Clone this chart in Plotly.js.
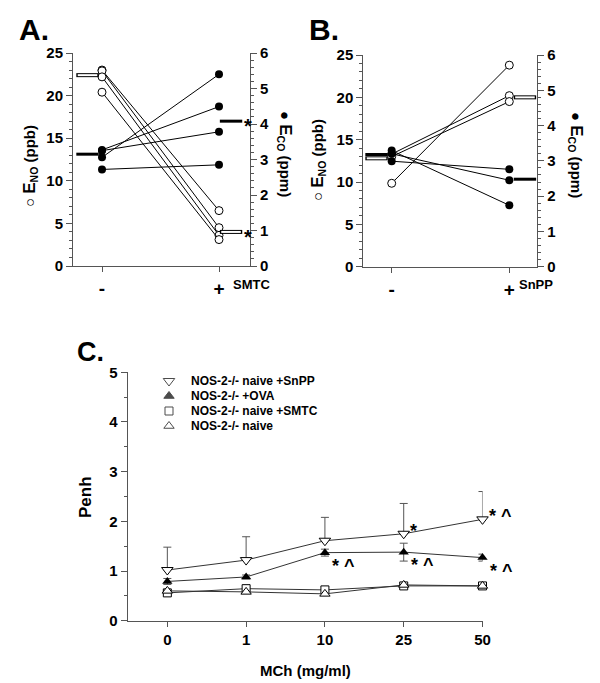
<!DOCTYPE html>
<html>
<head>
<meta charset="utf-8">
<script src="https://cdn.plot.ly/plotly-3.0.1.min.js"></script>
<style>body{margin:0;background:#fff}#chart{width:600px;height:683px}</style>
</head>
<body>
<div id="chart"></div>
<script>
// A. SMTC, one line per mouse (E_NO open, E_CO filled)
var smtcNoBefore = [23.0, 22.9, 22.2, 20.4];
var smtcNoAfter = [6.5, 4.5, 3.6, 3.1];
var smtcCoBefore = [3.27, 3.25, 3.06, 2.72];
var smtcCoAfter = [4.49, 3.78, 5.40, 2.85];
var smtcNoMean = [22.4, 4.0];
var smtcCoMean = [3.15, 4.08];

// B. SnPP
var snppNoBefore = [9.85, 13.3, 13.0];
var snppNoAfter = [23.8, 20.2, 19.5];
var snppCoBefore = [3.29, 3.20, 2.99];
var snppCoAfter = [1.74, 2.45, 2.76];
var snppNoMean = [12.8, 20.0];
var snppCoMean = [3.18, 2.48];

// C. Penh vs MCh
var mchDoses = ['0', '1', '10', '25', '50'];
var penhSnpp = [1.02, 1.22, 1.61, 1.75, 2.04];
var errSnpp = [0.46, 0.47, 0.47, 0.61, 0.56];
var penhOva = [0.79, 0.88, 1.37, 1.38, 1.27];
var errOva = [0.06, 0.04, 0.07, 0.18, 0.07];
var penhSmtc = [0.56, 0.645, 0.62, 0.70, 0.70];
var errSmtc = [0.03, 0.03, 0.06, 0.04, 0.02];
var penhNaive = [0.60, 0.58, 0.54, 0.72, 0.70];

var legendNames = ['NOS-2-/- naive +SnPP', 'NOS-2-/- +OVA', 'NOS-2-/- naive +SMTC', 'NOS-2-/- naive'];

// significance marks: dose index, which series, text
var sigIdx = [2, 3, 4, 3, 4];
var sigSeries = ['ova', 'ova', 'ova', 'snpp', 'snpp'];
var sigText = ['* ^', '* ^', '* ^', '*', '* ^'];

var FONT = 'Liberation Sans, Arial, sans-serif';
var AX = '#555';

var data = [];
var annotations = [];

// before/after panel: lines, circles, mean bars
function pairPanel(xa, yl, yr, noB, noA, coB, coA, noM, coM, offB, offA) {
    for (var i = 0; i < coB.length; i++) {
        data.push({x: [0, 1], y: [coB[i], coA[i]], xaxis: xa, yaxis: yr,
            type: 'scatter', mode: 'lines+markers', showlegend: false,
            line: {color: '#000', width: 1},
            marker: {symbol: 'circle', size: 8, color: '#000'}});
    }
    for (var i = 0; i < noB.length; i++) {
        data.push({x: [0, 1], y: [noB[i], noA[i]], xaxis: xa, yaxis: yl,
            type: 'scatter', mode: 'lines+markers', showlegend: false,
            line: {color: '#000', width: 1},
            marker: {symbol: 'circle', size: 8, color: '#fff', line: {color: '#000', width: 1}}});
    }
    var mx = [0 + offB, 1 + offA];
    // filled mean bar (E_CO)
    data.push({x: mx, y: coM, xaxis: xa, yaxis: yr, type: 'scatter', mode: 'markers',
        showlegend: false, cliponaxis: false,
        marker: {symbol: 'line-ew', size: 16, line: {color: '#000', width: 3}}});
    // open mean bar (E_NO)
    data.push({x: mx, y: noM, xaxis: xa, yaxis: yl, type: 'scatter', mode: 'markers',
        showlegend: false, cliponaxis: false,
        marker: {symbol: 'line-ew', size: 16, line: {color: '#000', width: 4}}});
    data.push({x: mx, y: noM, xaxis: xa, yaxis: yl, type: 'scatter', mode: 'markers',
        showlegend: false, cliponaxis: false,
        marker: {symbol: 'line-ew', size: 14, line: {color: '#fff', width: 2}}});
}

pairPanel('x', 'y', 'y2', smtcNoBefore, smtcNoAfter, smtcCoBefore, smtcCoAfter,
    smtcNoMean, smtcCoMean, -0.124, 0.103);
pairPanel('x2', 'y3', 'y4', snppNoBefore, snppNoAfter, snppCoBefore, snppCoAfter,
    snppNoMean, snppCoMean, -0.129, 0.133);

// stars beside the SMTC means
annotations.push({xref: 'x', yref: 'y2', x: 1, y: smtcCoMean[1], text: '<b>*</b>',
    showarrow: false, xanchor: 'left', yanchor: 'middle', xshift: 23, yshift: -5,
    font: {family: FONT, size: 20, color: '#000'}});
annotations.push({xref: 'x', yref: 'y', x: 1, y: smtcNoMean[1], text: '<b>*</b>',
    showarrow: false, xanchor: 'left', yanchor: 'middle', xshift: 23, yshift: -5,
    font: {family: FONT, size: 20, color: '#000'}});

// panel C
var line = {color: '#333', width: 1};
var eb = {color: AX, thickness: 1, width: 4};
data.push({x: mchDoses, y: penhSmtc, xaxis: 'x3', yaxis: 'y5', type: 'scatter',
    mode: 'lines+markers', showlegend: false, cliponaxis: false, line: line,
    error_y: Object.assign({type: 'data', array: errSmtc}, eb),
    marker: {symbol: 'square', size: 8, color: '#fff', line: {color: '#000', width: 1}}});
data.push({x: mchDoses, y: penhNaive, xaxis: 'x3', yaxis: 'y5', type: 'scatter',
    mode: 'lines+markers', showlegend: false, cliponaxis: false, line: line,
    marker: {symbol: 'triangle-up', size: 9, color: '#fff', line: {color: '#000', width: 1}}});
data.push({x: mchDoses, y: penhOva, xaxis: 'x3', yaxis: 'y5', type: 'scatter',
    mode: 'lines+markers', showlegend: false, cliponaxis: false, line: line,
    error_y: Object.assign({type: 'data', array: errOva}, eb),
    marker: {symbol: 'triangle-up', size: 9, color: '#000'}});
data.push({x: mchDoses, y: penhSnpp, xaxis: 'x3', yaxis: 'y5', type: 'scatter',
    mode: 'lines+markers', showlegend: false, cliponaxis: false, line: line,
    error_y: Object.assign({type: 'data', symmetric: false, array: errSnpp,
        arrayminus: [0, 0, 0, 0, 0]}, eb),
    marker: {symbol: 'triangle-down', size: 10, color: '#fff', line: {color: '#000', width: 1}}});

// legend, drawn on a hidden axis pair (rows 0..3)
var legSymbols = ['triangle-down', 'triangle-up', 'square', 'triangle-up'];
var legColors = ['#fff', '#000', '#fff', '#fff'];
var legSizes = [10, 9, 8, 9];
var rows = legendNames.map(function (n, i) { return i; });
data.push({x: rows.map(function () { return 19; }), y: rows, xaxis: 'x4', yaxis: 'y6',
    type: 'scatter', mode: 'markers', showlegend: false, cliponaxis: false, hoverinfo: 'skip',
    marker: {symbol: legSymbols, size: legSizes, color: legColors, line: {color: '#000', width: 1}}});
legendNames.forEach(function (n, i) {
    annotations.push({xref: 'x4', yref: 'y6', x: 39, y: i, text: '<b>' + n + '</b>',
        showarrow: false, xanchor: 'left', yanchor: 'middle',
        font: {family: FONT, size: 12, color: '#000'}});
});

sigIdx.forEach(function (k, i) {
    var ova = sigSeries[i] === 'ova';
    annotations.push({xref: 'x3', yref: 'y5', x: k,
        y: ova ? penhOva[k] : penhSnpp[k], text: '<b>' + sigText[i] + '</b>',
        showarrow: false, xanchor: 'left', yanchor: 'middle',
        xshift: ova ? 5 : 4, yshift: ova ? -13 : 3,
        font: {family: FONT, size: 18, color: '#000'}});
});

function paper(x, y, txt, size, angle, xa) {
    annotations.push({xref: 'paper', yref: 'paper', x: x / 600, y: 1 - y / 683,
        text: txt, showarrow: false, textangle: angle || 0,
        xanchor: xa || 'center', yanchor: 'middle',
        font: {family: FONT, size: size, color: '#000'}});
}

paper(17, 29, '<b>A.</b>', 30, 0, 'left');
paper(307, 29, '<b>B.</b>', 30, 0, 'left');
paper(75, 352, '<b>C.</b>', 27, 0, 'left');

var noTitle = '<b><span style="font-size:15px">○</span> <span style="font-size:17px">E</span><sub>NO</sub> (ppb)</b>';
var coTitle = '<b><span style="font-size:15px">●</span> <span style="font-size:17px">E</span><sub>CO</sub> (ppm)</b>';
paper(30, 166, noTitle, 15, -90);
paper(285, 154, coTitle, 15, 90);
paper(318, 160, noTitle, 15, -90);
paper(576, 155, coTitle, 15, 90);
paper(85, 497, '<b>Penh</b>', 17, -90);
paper(305, 670, '<b>MCh (mg/ml)</b>', 15);

annotations.push({xref: 'x', yref: 'paper', x: 1, y: 1 - 284 / 683, text: '<b>SMTC</b>',
    showarrow: false, xanchor: 'left', yanchor: 'middle', xshift: 12,
    font: {family: FONT, size: 13, color: '#000'}});
annotations.push({xref: 'x2', yref: 'paper', x: 1, y: 1 - 284 / 683, text: '<b>SnPP</b>',
    showarrow: false, xanchor: 'left', yanchor: 'middle', xshift: 8,
    font: {family: FONT, size: 13, color: '#000'}});

function xax(dom, range, vals, txt, size, anchor) {
    return {domain: dom, range: range, tickvals: vals, ticktext: txt, anchor: anchor,
        showline: true, linecolor: AX, linewidth: 1, ticks: 'outside', ticklen: 5,
        tickcolor: AX, showgrid: false, zeroline: false, fixedrange: true,
        tickfont: {family: FONT, size: size, color: '#000', weight: 'bold'}};
}
function yax(dom, range, dt, mdt, anchor, side, over) {
    var a = {domain: dom, range: range, dtick: dt, anchor: anchor, side: side || 'left',
        showline: true, linecolor: AX, linewidth: 1, ticks: 'outside', ticklen: 6,
        tickcolor: AX, showgrid: false, zeroline: false, fixedrange: true,
        minor: {dtick: mdt, ticks: 'outside', ticklen: 3, tickcolor: AX},
        tickfont: {family: FONT, size: 15, color: '#000', weight: 'bold'}};
    if (over) a.overlaying = over;
    return a;
}

var layout = {
    width: 600, height: 683,
    margin: {l: 0, r: 0, t: 0, b: 0},
    paper_bgcolor: '#fff', plot_bgcolor: 'rgba(0,0,0,0)',
    showlegend: false,
    font: {family: FONT, color: '#000'},
    xaxis: xax([73 / 600, 250 / 600], [-0.248, 1.265], [0, 1], ['-', '+'], 19, 'y'),
    yaxis: yax([1 - 266 / 683, 1 - 53 / 683], [0, 25], 5, 1, 'x'),
    yaxis2: yax([1 - 266 / 683, 1 - 53 / 683], [0, 6], 1, 0.2, 'x', 'right', 'y'),
    xaxis2: xax([363.3 / 600, 537.3 / 600], [-0.2415, 1.238], [0, 1], ['-', '+'], 19, 'y3'),
    yaxis3: yax([1 - 266.7 / 683, 1 - 55 / 683], [0, 25], 5, 1, 'x2'),
    yaxis4: yax([1 - 266.7 / 683, 1 - 55 / 683], [0, 6], 1, 0.2, 'x2', 'right', 'y3'),
    xaxis3: Object.assign(xax([127.7 / 600, 482.5 / 600], [-0.503, 4], null, null, 15, 'y5'),
        {type: 'category', tickvals: undefined, ticktext: undefined}),
    yaxis5: yax([1 - 620.7 / 683, 1 - 372.3 / 683], [0, 5], 1, 0.5, 'x3'),
    xaxis4: {domain: [150 / 600, 210 / 600], range: [0, 60], visible: false, anchor: 'y6', fixedrange: true},
    yaxis6: {domain: [1 - 448.5 / 683, 1 - 373.5 / 683], range: [4.5, -0.5], visible: false, anchor: 'x4', fixedrange: true},
    annotations: annotations
};

Plotly.newPlot('chart', data, layout, {displayModeBar: false, staticPlot: true});
</script>
</body>
</html>
